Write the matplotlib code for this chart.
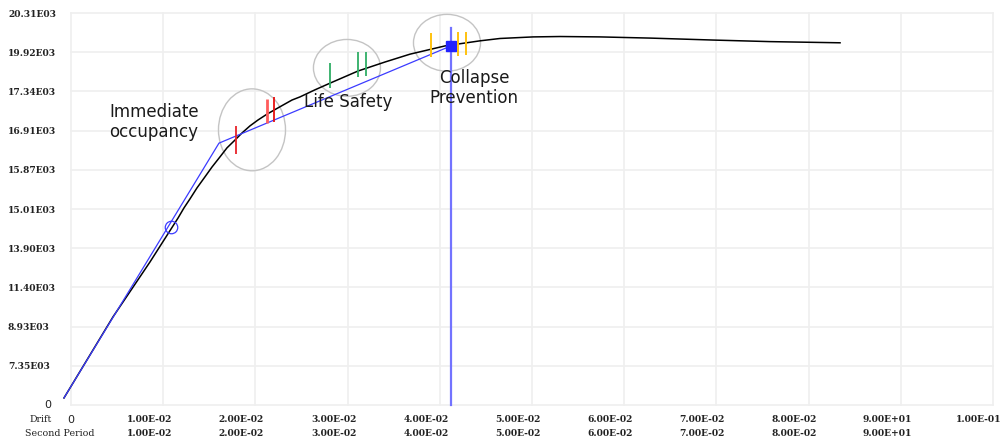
import matplotlib
matplotlib.use("Agg")
import matplotlib.pyplot as plt
from matplotlib.patches import Ellipse
from matplotlib import transforms

# ---------------- data ----------------
# y axis: evenly spaced gridlines carrying these labels (index 0..10)
y_tick_labels = ["0", "7.35E03", "8.93E03", "11.40E03", "13.90E03", "15.01E03",
                 "15.87E03", "16.91E03", "17.34E03", "19.92E03", "20.31E03"]
x_ticks = [0.0, 0.01, 0.02, 0.03, 0.04, 0.05, 0.06, 0.07, 0.08, 0.09, 0.10]
drift_labels = ["0", "1.00E-02", "2.00E-02", "3.00E-02", "4.00E-02", "5.00E-02",
                "6.00E-02", "7.00E-02", "8.00E-02", "9.00E+01", "1.00E-01"]
period_labels = ["", "1.00E-02", "2.00E-02", "3.00E-02", "4.00E-02", "5.00E-02",
                 "6.00E-02", "7.00E-02", "8.00E-02", "9.00E+01", ""]

# pushover (capacity) curve: drift vs. y position in tick-index units
curve_x = [-0.00076, 0.00456, 0.00857, 0.01161, 0.01226, 0.01291, 0.01367, 0.01453,
           0.01529, 0.01616, 0.01692, 0.01779, 0.01855, 0.01941, 0.02028, 0.02126,
           0.02223, 0.02321, 0.02397, 0.02484, 0.02646, 0.02809, 0.03113, 0.03406,
           0.03677, 0.04056, 0.04436, 0.04653, 0.05011, 0.05304, 0.05738, 0.06280,
           0.06963, 0.07581, 0.08341]
curve_y = [0.18, 2.25, 3.65, 4.77, 5.03, 5.26, 5.54, 5.82,
           6.07, 6.33, 6.56, 6.76, 6.94, 7.12, 7.27, 7.42,
           7.55, 7.68, 7.78, 7.86, 8.04, 8.21, 8.52, 8.75,
           8.95, 9.16, 9.29, 9.35, 9.39, 9.40, 9.39, 9.36,
           9.31, 9.27, 9.24]

# bilinear idealisation
bilinear_x = [-0.00076, 0.01605, 0.04121]
bilinear_y = [0.18, 6.68, 9.16]
yield_x, yield_y = 0.01085, 4.54
target_x, target_y = 0.04121, 9.16
target_top = 9.62

# performance level marks: drift, low, high
io_x = [0.01790, 0.02126, 0.02202]
io_low = [6.40, 7.19, 7.22]
io_high = [7.12, 7.81, 7.86]
ls_x = [0.02809, 0.03113, 0.03200]
ls_low = [8.09, 8.37, 8.39]
ls_high = [8.72, 9.01, 9.01]
cp_x = [0.03905, 0.04197, 0.04284]
cp_low = [8.88, 8.90, 8.93]
cp_high = [9.49, 9.52, 9.52]

# zones around each performance level
zone_x = [0.01963, 0.02993, 0.04078]
zone_y = [7.02, 8.60, 9.24]
zone_w = [0.00727, 0.00727, 0.00727]
zone_h = [2.09, 1.45, 1.45]
zone_names = ["Immediate\noccupancy", "Life Safety", "Collapse\nPrevention"]
name_x = [0.00900, 0.03004, 0.04371]
name_y = [7.22, 7.73, 8.09]

# ---------------- figure ----------------
W, H = 1008, 441
fig = plt.figure(figsize=(W / 100, H / 100), dpi=100)
left, right, top, bottom = 71, 993, 13, 405
ax = fig.add_axes([left / W, (H - bottom) / H, (right - left) / W, (bottom - top) / H])
ax.set_xlim(0, 0.1)
ax.set_ylim(0, 10)

for s in ax.spines.values():
    s.set_visible(False)

grid_c = "#efefef"
ax.set_xticks(x_ticks)
ax.set_yticks(range(len(y_tick_labels)))
ax.grid(True, color=grid_c, lw=1.2)
ax.set_axisbelow(True)
for gl in ax.get_xgridlines() + ax.get_ygridlines():
    gl.set_clip_on(False)

serif_b = dict(family="DejaVu Serif", weight="bold", size=6.6, color="#222222")

# y labels: left aligned, "0" drawn in sans
ax.set_yticklabels([""] + y_tick_labels[1:], **serif_b)
ax.tick_params(axis="y", length=0, pad=(left - 8) * 0.72)
for lab in ax.get_yticklabels():
    lab.set_horizontalalignment("left")
ytrans = transforms.blended_transform_factory(fig.transFigure, ax.transData)
ax.text(44 / W, 0, y_tick_labels[0], transform=ytrans, ha="left", va="center",
        family="DejaVu Sans", size=8, color="#222222")

# x labels: two rows of text
ax.tick_params(axis="x", length=0, labelbottom=False)
xtrans = transforms.blended_transform_factory(ax.transData, fig.transFigure)
shift = transforms.ScaledTranslation(-14 / 100, 0, fig.dpi_scale_trans)
row1 = 1 - 420 / H
row2 = 1 - 433 / H
for xv, l1, l2 in zip(x_ticks, drift_labels, period_labels):
    if xv == 0:
        ax.text(xv, row1, l1, transform=xtrans, ha="center", va="center",
                family="DejaVu Sans", size=8, color="#222222")
    else:
        ax.text(xv, row1, l1, transform=xtrans + shift, ha="center", va="center", **serif_b)
        if l2:
            ax.text(xv, row2, l2, transform=xtrans + shift, ha="center", va="center", **serif_b)
fig.text(30 / W, row1, "Drift", ha="left", va="center", family="DejaVu Serif",
         size=6.8, color="#222222")
fig.text(25 / W, row2, "Second Period", ha="left", va="center", family="DejaVu Serif",
         size=6.8, color="#222222")

# zones
for cx, cy, w, h in zip(zone_x, zone_y, zone_w, zone_h):
    ax.add_patch(Ellipse((cx, cy), w, h, fill=False, edgecolor="#c4c4c4", lw=1.0, zorder=2))

# vertical target line
ax.plot([target_x, target_x], [0, target_top], color="#7373ff", lw=1.6, zorder=3,
        clip_on=False)

# curves
ax.plot(curve_x, curve_y, color="black", lw=1.1, zorder=4, clip_on=False,
        solid_joinstyle="round")
ax.plot(bilinear_x, bilinear_y, color="#3b3bff", lw=0.9, zorder=4, clip_on=False)
ax.plot([yield_x], [yield_y], marker="o", ms=9, mfc="none", mec="#3b3bff", mew=0.9, zorder=5)
ax.plot([target_x], [target_y], marker="s", ms=6.5, color="#2222ff", zorder=5)

# performance marks
ax.vlines(io_x, io_low, io_high, colors=["#e8232a", "#ff5c5c", "#e81010"],
          lw=[1.3, 2.0, 1.3], zorder=5)
ax.vlines(ls_x, ls_low, ls_high, colors="#2fae66", lw=1.3, zorder=5)
ax.vlines(cp_x, cp_low, cp_high, colors="#ffc20e", lw=1.4, zorder=5)

for t, tx, ty in zip(zone_names, name_x, name_y):
    ax.text(tx, ty, t, ha="center", va="center", family="DejaVu Sans", size=12,
            color="#1a1a1a", linespacing=1.15, zorder=6)

fig.savefig("out.png", dpi=100)
